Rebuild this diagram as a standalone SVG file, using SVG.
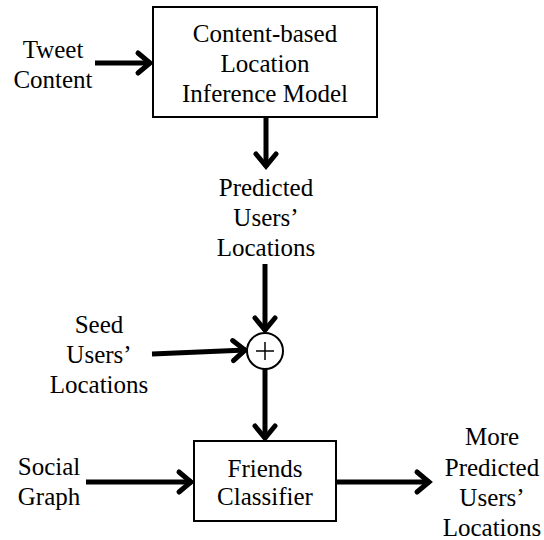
<svg xmlns="http://www.w3.org/2000/svg" width="544" height="540" viewBox="0 0 544 540">
<style>
text{font-family:"Liberation Serif","Times New Roman",serif;font-size:25px;fill:#000;text-anchor:middle}
.box{fill:#fff;stroke:#000;stroke-width:2}
.c{stroke:#000;stroke-width:5;fill:none}
</style>
<defs>
<marker id="ah" markerUnits="userSpaceOnUse" viewBox="-20 -15 30 30" markerWidth="30" markerHeight="30" refX="0" refY="0" orient="auto" overflow="visible">
<path d="M-13,-10 L-1,0 L-13,10" fill="none" stroke="#000" stroke-width="5" stroke-linejoin="miter" stroke-linecap="round"/>
</marker>
</defs>
<g id="connectors">
<line class="c" x1="95" y1="63" x2="151" y2="63" marker-end="url(#ah)"/>
<line class="c" x1="266" y1="117" x2="266" y2="167" marker-end="url(#ah)"/>
<line class="c" x1="265" y1="264" x2="265" y2="331" marker-end="url(#ah)"/>
<line class="c" x1="152" y1="354" x2="246" y2="350" marker-end="url(#ah)"/>
<line class="c" x1="265" y1="369" x2="265" y2="439" marker-end="url(#ah)"/>
<line class="c" x1="86" y1="482" x2="192" y2="482" marker-end="url(#ah)"/>
<line class="c" x1="336" y1="482" x2="430" y2="482" marker-end="url(#ah)"/>
</g>
<g id="tweet-content">
<text x="53" y="58">Tweet</text>
<text x="53" y="88">Content</text>
</g>
<g id="content-model">
<rect class="box" x="153" y="7" width="224" height="110"/>
<text x="265" y="42">Content-based</text>
<text x="265" y="72">Location</text>
<text x="265" y="102">Inference Model</text>
</g>
<g id="predicted-locations">
<text x="266" y="196">Predicted</text>
<text x="266" y="226">Users’</text>
<text x="266" y="256">Locations</text>
</g>
<g id="sum">
<circle cx="265" cy="351" r="18" fill="#fff" stroke="#000" stroke-width="2"/>
<line x1="256" y1="351" x2="274" y2="351" stroke="#000" stroke-width="1.5"/>
<line x1="265" y1="342" x2="265" y2="360" stroke="#000" stroke-width="1.5"/>
</g>
<g id="seed-locations">
<text x="99" y="333">Seed</text>
<text x="99" y="363">Users’</text>
<text x="99" y="393">Locations</text>
</g>
<g id="social-graph">
<text x="49" y="475">Social</text>
<text x="49" y="505">Graph</text>
</g>
<g id="friends-classifier">
<rect class="box" x="194" y="441" width="142" height="80"/>
<text x="265" y="477">Friends</text>
<text x="265" y="505">Classifier</text>
</g>
<g id="more-predicted">
<text x="492" y="445">More</text>
<text x="492" y="476">Predicted</text>
<text x="492" y="506">Users’</text>
<text x="492" y="536">Locations</text>
</g>
</svg>
